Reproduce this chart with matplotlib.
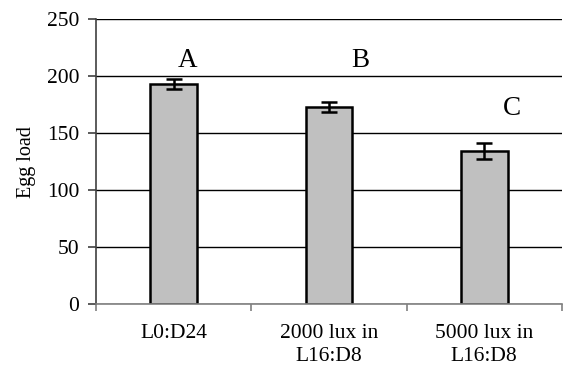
import matplotlib.pyplot as plt
import numpy as np

categories = ['L0:D24', '2000 lux in\nL16:D8', '5000 lux in\nL16:D8']
egg_load = [193, 173, 134]
errors = [4.5, 4.7, 7]
letters = ['A', 'B', 'C']
letter_x_offset = [0.09, 0.2, 0.18]
letter_y = [214, 214, 172]

plt.rcParams['font.family'] = ['Liberation Serif', 'DejaVu Serif']

fig = plt.figure(figsize=(5.63, 3.75), dpi=100)
ax = fig.add_axes([0.1705, 0.189, 0.8275, 0.76])

x = np.arange(len(categories))
ax.set_axisbelow(True)
ax.yaxis.grid(True, color='black', linewidth=1.0)
ax.bar(x, egg_load, width=0.3, color='#c0c0c0', edgecolor='black', linewidth=1.8,
       zorder=2)
ax.errorbar(x, egg_load, yerr=errors, fmt='none', ecolor='black', elinewidth=1.8,
            capsize=5.5, capthick=1.8, zorder=3)

for i, lab in enumerate(letters):
    ax.text(x[i] + letter_x_offset[i], letter_y[i], lab, ha='center', va='center',
            fontsize=19.5)

ax.set_xlim(-0.5, len(categories) - 0.5)
ax.set_ylim(0, 250)
ax.set_yticks(np.arange(0, 251, 50))
ax.set_xticks(x)
ax.set_xticklabels(categories, fontsize=15.5, linespacing=1.35)
ax.set_xticks(np.arange(-0.5, len(categories), 1.0), minor=True)
ax.tick_params(axis='x', which='major', length=0, pad=14)
ax.tick_params(axis='x', which='minor', length=5, color='#808080', width=1.2)
ax.tick_params(axis='y', labelsize=15.5, length=6, color='#404040', width=1.2, pad=6)
ax.set_ylabel('Egg load', fontsize=14.5, labelpad=8)

for side in ['top', 'right']:
    ax.spines[side].set_visible(False)
ax.spines['left'].set_color('#404040')
ax.spines['bottom'].set_color('#808080')
for side in ['left', 'bottom']:
    ax.spines[side].set_linewidth(1.2)

fig.savefig('out.png', dpi=100)
